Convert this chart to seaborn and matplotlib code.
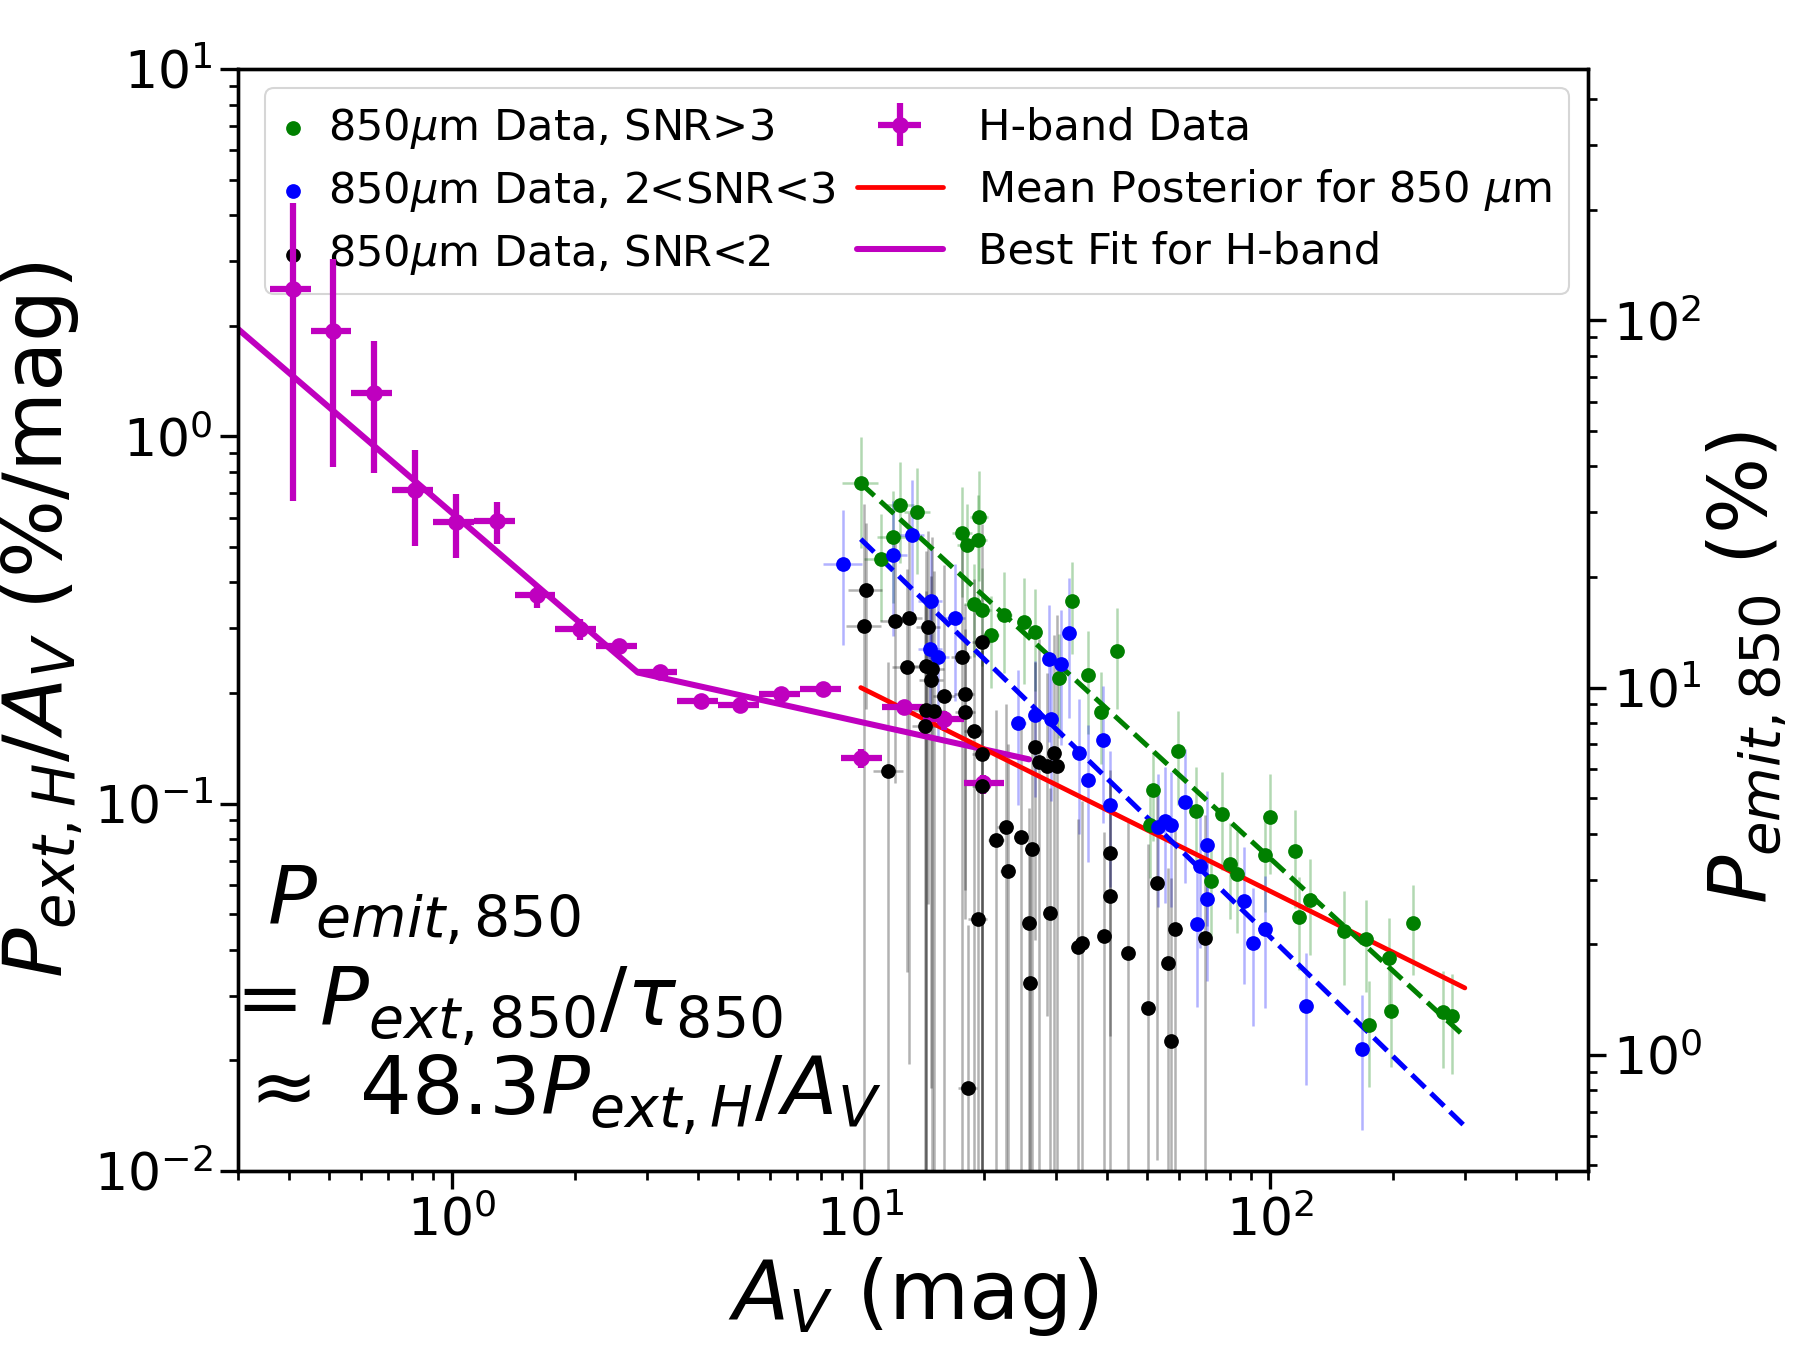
import numpy as np
import pandas as pd
import matplotlib
matplotlib.use("Agg")
import matplotlib.pyplot as plt
import matplotlib.collections as mcoll
from matplotlib.legend_handler import HandlerPathCollection
import seaborn as sns

# H-band binned data (A_V bins, P_ext,H / A_V with asymmetric errors)
hbandAv = [0.409, 0.512, 0.647, 0.812, 1.023, 1.287, 1.617, 2.054, 2.557, 3.23, 4.06, 5.08, 6.39, 8.08, 10.01, 12.77, 15.99, 19.89]
hbandEdges = [0.359, 0.452, 0.567, 0.714, 0.899, 1.133, 1.424, 1.79, 2.25, 2.83, 3.56, 4.48, 5.64, 7.10, 8.94, 11.26, 14.17, 17.84, 22.46]
hbandP = [2.52, 1.93, 1.316, 0.714, 0.583, 0.587, 0.370, 0.299, 0.268, 0.228, 0.190, 0.186, 0.199, 0.205, 0.133, 0.183, 0.170, 0.114]
hbandLo = [0.666, 0.827, 0.797, 0.503, 0.466, 0.510, 0.341, 0.279, 0.256, 0.220, 0.184, 0.180, 0.191, 0.199, 0.125, 0.176, 0.159, 0.106]
hbandHi = [4.33, 3.03, 1.82, 0.918, 0.695, 0.663, 0.389, 0.318, 0.280, 0.236, 0.196, 0.192, 0.207, 0.211, 0.141, 0.190, 0.179, 0.120]

# broken power-law best fit for H-band
fitAv = [0.3, 2.85, 25.8]
fitP = [1.96, 0.2275, 0.132]

# 850 um fits
postAv = [10.0, 300.0]
postP = [0.207, 0.0315]
greenFitAv = [10.0, 300.0]
greenFitP = [0.745, 0.0232]
blueFitAv = [10.0, 300.0]
blueFitP = [0.525, 0.01324]

# 850 um data, SNR>3
greenAv = [10.01, 12.46, 13.76, 11.96, 11.20, 19.45, 17.72, 19.38, 18.22, 18.92, 19.82, 22.38, 20.77, 25.04, 26.73,
           32.84, 30.48, 35.93, 42.44, 38.70, 59.5, 51.7, 50.9, 66.2, 76.5, 100.1, 71.7, 80.1, 83.2, 97.5,
           115.6, 125.5, 117.8, 151.7, 171.9, 195.2, 224.5, 197.8, 175.1, 265.8, 279.5]
greenP = [0.747, 0.652, 0.621, 0.532, 0.464, 0.603, 0.546, 0.521, 0.505, 0.350, 0.337, 0.327, 0.287, 0.312, 0.293,
          0.356, 0.2205, 0.2243, 0.261, 0.178, 0.139, 0.1092, 0.0876, 0.0957, 0.0939, 0.0922, 0.0614, 0.0684, 0.0645, 0.0726,
          0.0741, 0.0547, 0.0492, 0.0450, 0.0428, 0.0379, 0.0472, 0.0272, 0.0249, 0.0271, 0.0264]
greenErr = [0.25, 0.2, 0.2, 0.18, 0.15, 0.2, 0.18, 0.17, 0.15, 0.1, 0.1, 0.1, 0.08, 0.1, 0.09,
            0.1, 0.07, 0.07, 0.08, 0.05, 0.04, 0.03, 0.025, 0.03, 0.028, 0.028, 0.018, 0.02, 0.02, 0.022,
            0.022, 0.016, 0.014, 0.013, 0.012, 0.011, 0.013, 0.008, 0.008, 0.008, 0.008]

# 850 um data, 2<SNR<3
blueAv = [9.07, 13.31, 12.01, 14.83, 16.96, 14.78, 15.48, 32.34, 28.91, 30.93, 24.29, 26.73, 29.14, 39.07, 34.10,
          35.93, 40.75, 62.0, 53.4, 55.4, 57.3, 70.4, 67.7, 70.3, 66.5, 86.5, 91.0, 97.5, 122.7, 167.8]
blueP = [0.450, 0.540, 0.476, 0.356, 0.320, 0.2634, 0.2512, 0.291, 0.247, 0.240, 0.1654, 0.174, 0.1696, 0.1486, 0.1376,
         0.1163, 0.0992, 0.1009, 0.0862, 0.0895, 0.0873, 0.0773, 0.0675, 0.055, 0.047, 0.0543, 0.0418, 0.0457, 0.0281, 0.0215]
blueErr = [0.18, 0.22, 0.19, 0.14, 0.13, 0.105, 0.1, 0.12, 0.1, 0.096, 0.066, 0.07, 0.068, 0.06, 0.055,
           0.047, 0.04, 0.04, 0.034, 0.036, 0.035, 0.031, 0.027, 0.022, 0.019, 0.022, 0.017, 0.018, 0.011, 0.0086]

# 850 um data, SNR<2
blackAv = [10.30, 10.20, 12.14, 13.14, 14.64, 19.74, 12.94, 14.42, 14.97, 14.86, 17.64, 16.01, 17.94, 14.42, 15.11, 17.98,
           14.33, 18.92, 19.74, 26.73, 29.63, 27.24, 28.54, 30.19, 11.69, 19.74, 22.59, 21.44, 24.71, 26.24, 22.89, 40.80,
           40.64, 28.97, 19.34, 25.85, 33.96, 34.73, 39.23, 45.13, 25.91, 50.29, 18.29, 53.1, 58.6, 69.6, 56.3, 57.5]
blackP = [0.3805, 0.304, 0.3136, 0.3196, 0.3034, 0.276, 0.2348, 0.2373, 0.2323, 0.2168, 0.250, 0.196, 0.1986, 0.180, 0.1789, 0.1781,
          0.1623, 0.1576, 0.1367, 0.1426, 0.1373, 0.130, 0.1265, 0.1265, 0.1226, 0.1116, 0.0862, 0.0794, 0.0809, 0.0752, 0.0654, 0.0733,
          0.0560, 0.0505, 0.0485, 0.0472, 0.0408, 0.0418, 0.0437, 0.0392, 0.0325, 0.0277, 0.0168, 0.0607, 0.0456, 0.0432, 0.0369, 0.0226]
blackErr = [0.2, 0.35, 0.2, 0.3, 0.25, 0.3, 0.2, 0.25, 0.3, 0.2, 0.3, 0.25, 0.15, 0.2, 0.25, 0.12,
            0.2, 0.25, 0.15, 0.1, 0.15, 0.15, 0.1, 0.2, 0.12, 0.15, 0.1, 0.1, 0.08, 0.1, 0.08, 0.05,
            0.06, 0.06, 0.06, 0.05, 0.05, 0.06, 0.04, 0.05, 0.04, 0.05, 0.03, 0.05, 0.04, 0.05, 0.03, 0.04]
avErr850 = 1.0

emitFactor = 48.3


class NarrowDotHandler(HandlerPathCollection):
    # scatter legend entries: narrow handle box, dot sitting right before the text
    def legend_artist(self, legend, orig_handle, fontsize, handlebox):
        handlebox.width = 0.26 * fontsize
        return super().legend_artist(legend, orig_handle, fontsize, handlebox)

    def get_xdata(self, legend, xdescent, ydescent, width, height, fontsize):
        return [-xdescent, -xdescent + width], [-xdescent + width]


sns.set_style("ticks")
plt.rcParams['font.family'] = ['DejaVu Sans']
plt.rcParams['mathtext.fontset'] = 'dejavusans'
for key in ['text.color', 'axes.labelcolor', 'xtick.color', 'ytick.color', 'axes.edgecolor']:
    plt.rcParams[key] = 'black'

fig = plt.figure(figsize=(12, 9), dpi=150)
ax = fig.add_axes([0.1322, 0.1326, 0.75, 0.8163])
ax.set_xscale('log')
ax.set_yscale('log')

# fit lines
sns.lineplot(x=fitAv, y=fitP, ax=ax, color='m', linewidth=2.9, label='Best Fit for H-band', zorder=2)
sns.lineplot(x=postAv, y=postP, ax=ax, color='r', linewidth=2.3, label='Mean Posterior for 850 $\\mu$m', zorder=2)
sns.lineplot(x=greenFitAv, y=greenFitP, ax=ax, color='g', linewidth=2.4, linestyle='--', zorder=2)
sns.lineplot(x=blueFitAv, y=blueFitP, ax=ax, color='b', linewidth=2.4, linestyle='--', zorder=2)

# 850 um data with error bars
groups = [
    (greenAv, greenP, greenErr, 'g', '850$\\mu$m Data, SNR>3'),
    (blueAv, blueP, blueErr, 'b', '850$\\mu$m Data, 2<SNR<3'),
    (blackAv, blackP, blackErr, 'k', '850$\\mu$m Data, SNR<2'),
]
for av, p, err, col, lab in groups:
    ax.errorbar(av, p, yerr=err, xerr=avErr850, fmt='none', ecolor=col, alpha=0.3, elinewidth=1.2, zorder=1)
    df = pd.DataFrame({'Av': av, 'P': p})
    sns.scatterplot(data=df, x='Av', y='P', ax=ax, color=col, s=50, linewidth=0, label=lab, zorder=3)

# H-band data
hAv = np.array(hbandAv)
hEdges = np.array(hbandEdges)
xerr = [hAv - hEdges[:-1], hEdges[1:] - hAv]
yerr = [np.array(hbandP) - np.array(hbandLo), np.array(hbandHi) - np.array(hbandP)]
ax.errorbar(hbandAv, hbandP, xerr=xerr, yerr=yerr, fmt='o', color='m', ms=7, elinewidth=3, capsize=0,
            label='H-band Data', zorder=2.5)

ax.set_xlim(0.3, 600)
ax.set_ylim(0.01, 10)

ax2 = ax.twinx()
ax2.set_yscale('log')
ax2.set_ylim(0.01 * emitFactor, 10 * emitFactor)

for a in (ax, ax2):
    for s in a.spines.values():
        s.set_linewidth(1.6)
    a.tick_params(which='major', length=8.5, width=1.6, labelsize=25, direction='out')
    a.tick_params(which='minor', length=4.3, width=1.3, direction='out')

ax.set_xlabel(r'$A_V$ (mag)', fontsize=39.5)
ax.set_ylabel(r'$P_{ext,H}/A_V$ (%/mag)', fontsize=39.5)
ax2.set_ylabel(r'$P_{emit,850}$ (%)', fontsize=38.5)
ax2.yaxis.set_label_coords(1.086, 0.457)

# annotation
ax.text(0.0215, 0.223, r'$P_{emit,850}$', transform=ax.transAxes, fontsize=39, va='baseline', ha='left')
ax.text(-0.013, 0.132, r'$= P_{ext,850}/\tau_{850}$', transform=ax.transAxes, fontsize=39, va='baseline', ha='left')
ax.text(-0.003, 0.051, r'$\approx$ 48.3$P_{ext,H}/A_V$', transform=ax.transAxes, fontsize=39, va='baseline', ha='left')

# legend ordering: data first column, fits second
h, l = ax.get_legend_handles_labels()
order = ['850$\\mu$m Data, SNR>3', '850$\\mu$m Data, 2<SNR<3', '850$\\mu$m Data, SNR<2',
         'H-band Data', 'Mean Posterior for 850 $\\mu$m', 'Best Fit for H-band']
hd = dict(zip(l, h))
leg = ax.legend([hd[k] for k in order], order, ncol=2, loc='upper right', fontsize=20.7,
                columnspacing=0.5, labelspacing=0.42, borderaxespad=0.45,
                handler_map={mcoll.PathCollection: NarrowDotHandler()})
leg.set_zorder(1.5)

fig.savefig('out.png', dpi=150)
